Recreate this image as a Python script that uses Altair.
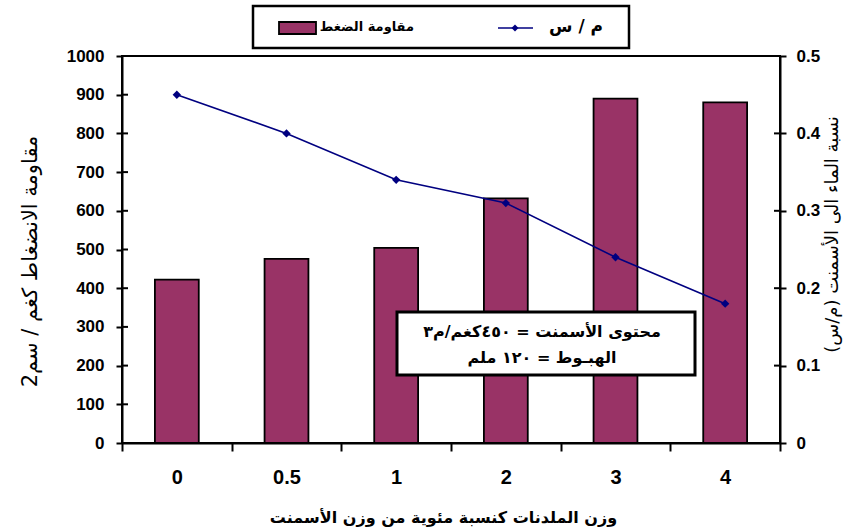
import altair as alt
import pandas as pd

categories = ["0", "0.5", "1", "2", "3", "4"]
strength = [422, 476, 504, 632, 890, 880]
wc_ratio = [0.45, 0.40, 0.34, 0.31, 0.24, 0.18]
left_ticks = [0, 100, 200, 300, 400, 500, 600, 700, 800, 900, 1000]
right_ticks = [0, 0.1, 0.2, 0.3, 0.4, 0.5]

bar_label = "مقاومة الضغط"
line_label = "م / س"
x_title = "وزن الملدنات كنسبة مئوية من وزن الأسمنت"
left_title = "مقاومة الانضغاط  كغم / سم2"
right_title = "نسبة الماء الى الأسمنت  (م/س)"
note_1 = "محتوى الأسمنت = ٤٥٠كغم/م٣"
note_2 = "الهبـوط = ١٢٠ ملم"

df = pd.DataFrame({"cat": categories, "strength": strength, "wc": wc_ratio})
left_df = pd.DataFrame({"strength": left_ticks})
right_df = pd.DataFrame({"wc": right_ticks})
one = pd.DataFrame({"k": [0]})

NUM_FONT = "Liberation Sans"
AR_FONT = "DejaVu Sans"
BAR_COLOR = "#993366"
LINE_COLOR = "#000080"

x_enc = alt.X(
    "cat:N",
    sort=categories,
    scale=alt.Scale(paddingInner=0, paddingOuter=0),
    axis=alt.Axis(
        title=x_title,
        labelAngle=0,
        tickBand="extent",
        tickSize=8,
        tickWidth=2,
        tickColor="black",
        domainColor="black",
        domainWidth=2,
        labelFont=NUM_FONT,
        labelFontSize=20,
        labelFontWeight="bold",
        labelColor="black",
        labelPadding=16,
        labelBaseline="top",
        titleFont=AR_FONT,
        titleFontSize=16,
        titleFontWeight="bold",
        titleColor="black",
        titleX=321,
        titleAlign="center",
        titleY=74,
        titleBaseline="middle",
        grid=False,
    ),
)

y_left = alt.Y(
    "strength:Q",
    scale=alt.Scale(domain=[0, 1000], nice=False, zero=True),
    axis=alt.Axis(
        values=left_ticks,
        orient="left",
        format="d",
        title=left_title,
        titleAngle=-90,
        titleX=-92,
        titleY=205,
        titleAlign="center",
        titleBaseline="middle",
        titleFont=AR_FONT,
        titleFontSize=21,
        titleFontWeight="normal",
        titleColor="black",
        labelFont=NUM_FONT,
        labelFontSize=17,
        labelFontWeight="bold",
        labelColor="black",
        labelPadding=12,
        tickSize=6,
        tickWidth=2,
        tickColor="black",
        domainColor="black",
        domainWidth=2,
        grid=False,
    ),
)

y_right = alt.Y(
    "wc:Q",
    scale=alt.Scale(domain=[0, 0.5], nice=False, zero=True),
    axis=alt.Axis(
        values=right_ticks,
        orient="right",
        format="~g",
        title=right_title,
        titleAngle=-90,
        titleX=52,
        titleY=178,
        titleAlign="center",
        titleBaseline="middle",
        titleFont=AR_FONT,
        titleFontSize=18,
        titleFontWeight="normal",
        titleColor="black",
        labelFont=NUM_FONT,
        labelFontSize=17,
        labelFontWeight="bold",
        labelColor="black",
        labelPadding=10,
        tickSize=6,
        tickWidth=2,
        tickColor="black",
        domainColor="black",
        domainWidth=2,
        grid=False,
    ),
)

bars = alt.Chart(df).mark_bar(
    color=BAR_COLOR, stroke="black", strokeWidth=1.8,
    width=alt.RelativeBandSize(0.4),
).encode(x=x_enc, y=y_left)

# inner halves of the left-axis ticks (ticks cross the axis line)
left_inner = alt.Chart(left_df).mark_rule(color="black", strokeWidth=2).encode(
    y=y_left, x=alt.value(0), x2=alt.value(6)
)

line = alt.Chart(df).mark_line(
    color=LINE_COLOR, strokeWidth=1.6,
    point=alt.OverlayMarkDef(shape="diamond", filled=True, size=70, color=LINE_COLOR),
).encode(x=x_enc, y=y_right)

right_inner = alt.Chart(right_df).mark_rule(color="black", strokeWidth=2).encode(
    y=y_right, x=alt.value(652), x2=alt.value(658)
)

# annotation box
note_box = alt.Chart(one).mark_rect(fill="white", stroke="black", strokeWidth=3).encode(
    x=alt.value(275), x2=alt.value(573), y=alt.value(256), y2=alt.value(319)
)
note_t1 = alt.Chart(one).mark_text(
    text=note_1, font=AR_FONT, fontSize=16, fontWeight="bold", color="black",
    align="center", baseline="middle",
).encode(x=alt.value(420), y=alt.value(276))
note_t2 = alt.Chart(one).mark_text(
    text=note_2, font=AR_FONT, fontSize=16, fontWeight="bold", color="black",
    align="center", baseline="middle",
).encode(x=alt.value(420), y=alt.value(302))

# legend
leg_box = alt.Chart(one).mark_rect(fill="white", stroke="black", strokeWidth=2.5).encode(
    x=alt.value(131), x2=alt.value(507), y=alt.value(-50), y2=alt.value(-8)
)
leg_swatch = alt.Chart(one).mark_rect(fill=BAR_COLOR, stroke="black", strokeWidth=1.8).encode(
    x=alt.value(157), x2=alt.value(194), y=alt.value(-34), y2=alt.value(-22)
)
leg_t1 = alt.Chart(one).mark_text(
    text=bar_label, font=AR_FONT, fontSize=13, fontWeight="bold", color="black",
    align="right", baseline="middle",
).encode(x=alt.value(292), y=alt.value(-29))
leg_line = alt.Chart(one).mark_rule(color=LINE_COLOR, strokeWidth=1.6).encode(
    x=alt.value(376), x2=alt.value(411), y=alt.value(-28)
)
leg_pt = alt.Chart(one).mark_point(shape="diamond", filled=True, size=50, color=LINE_COLOR, opacity=1).encode(
    x=alt.value(393), y=alt.value(-28)
)
leg_t2 = alt.Chart(one).mark_text(
    text=line_label, font=AR_FONT, fontSize=17, fontWeight="bold", color="black",
    align="right", baseline="middle",
).encode(x=alt.value(481), y=alt.value(-29))

chart = alt.layer(
    alt.layer(bars, left_inner),
    alt.layer(line, right_inner),
    note_box, note_t1, note_t2,
    leg_box, leg_swatch, leg_t1, leg_line, leg_pt, leg_t2,
).resolve_scale(y="independent").properties(
    width=658,
    height=387,
    autosize="none",
    padding={"left": 122, "top": 56, "right": 82, "bottom": 89},
    background="white",
).configure_view(stroke="black", strokeWidth=2)

chart.save("out.html", embed_options={"renderer": "svg", "actions": False})
